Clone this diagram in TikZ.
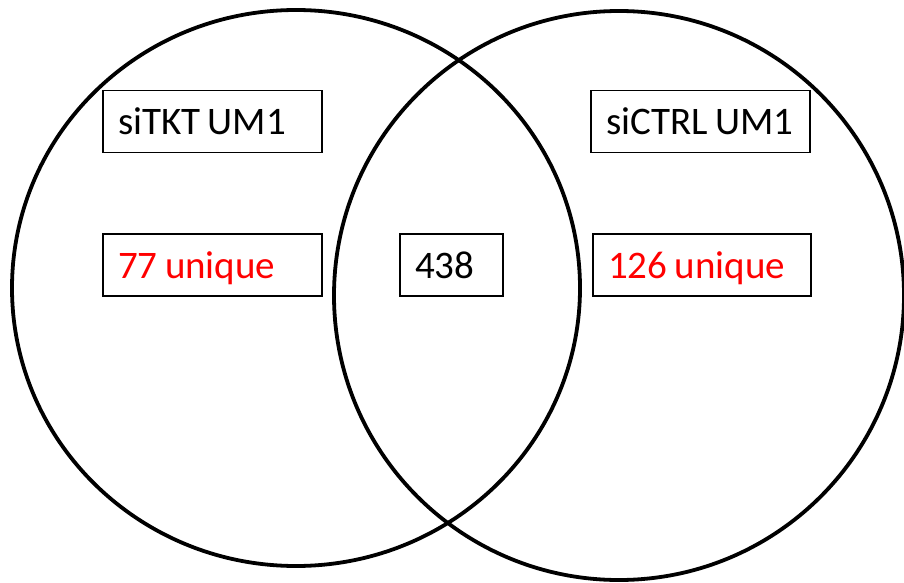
\documentclass[tikz,border=0pt]{standalone}
\usepackage{fontspec}
\setmainfont{Carlito}[WordSpace=0.85]
\newcommand{\boxtext}[2]{\makebox[#1][l]{#2}}
\begin{document}
\begin{tikzpicture}[x=1pt,y=-1pt,
  setring/.style={draw=black,line width=3.8pt},
  labelbox/.style={draw=black,line width=1.8pt,rectangle,inner xsep=15pt,inner ysep=0pt,
    text height=26pt,text depth=0pt,minimum height=62pt,
    font=\fontsize{39}{45}\selectfont},
  countred/.style={text=red}]
  \useasboundingbox (0,0) rectangle (904,583);
  % the two overlapping sets
  \draw[setring] (296,288) ellipse [x radius=284, y radius=278];
  \draw[setring] (619,295.5) ellipse [x radius=285, y radius=284.5];
  % set names
  \node[labelbox] (nameL) at (212.5,121.5) {\boxtext{189pt}{siTKT UM1}};
  \node[labelbox] (nameR) at (700.5,121.5) {\boxtext{189pt}{siCTRL UM1}};
  % counts
  \node[labelbox,countred] (uniqL) at (212.5,265) {\boxtext{189pt}{77 unique}};
  \node[labelbox] (shared) at (451.5,265) {\boxtext{73pt}{438}};
  \node[labelbox,countred] (uniqR) at (702,265) {\boxtext{188pt}{126 unique}};
\end{tikzpicture}
\end{document}
